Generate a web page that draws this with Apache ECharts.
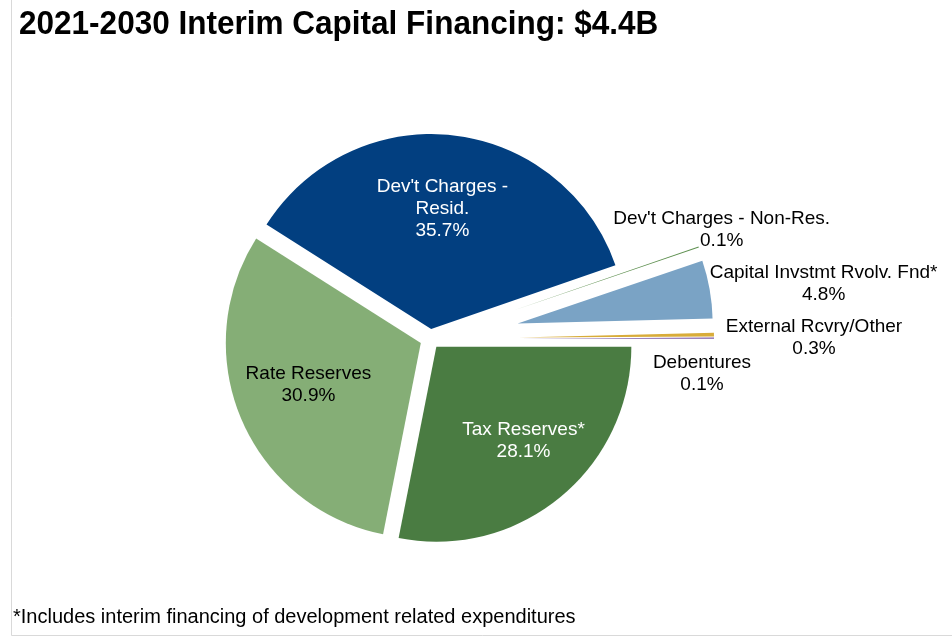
<!DOCTYPE html>
<html>
<head>
<meta charset="utf-8">
<script src="https://cdn.jsdelivr.net/npm/echarts@6/dist/echarts.min.js"></script>
<style>
  html, body { margin: 0; padding: 0; background: #ffffff; }
  #chart { width: 952px; height: 637px; }
</style>
</head>
<body>
<div id="chart"></div>
<script>
// Funding sources, clockwise from 3 o'clock
const categories = [
  "Tax Reserves*",
  "Rate Reserves",
  "Dev't Charges - Resid.",
  "Dev't Charges - Non-Res.",
  "Capital Invstmt Rvolv. Fnd*",
  "External Rcvry/Other",
  "Debentures"
];
// Label text as printed beside each slice
const labelTexts = [
  "Tax Reserves*",
  "Rate Reserves",
  "Dev't Charges -\nResid.",
  "Dev't Charges - Non-Res.",
  "Capital Invstmt Rvolv. Fnd*",
  "External Rcvry/Other",
  "Debentures"
];
// Share of total financing (%)
const shares = [28.1, 30.9, 35.7, 0.1, 4.8, 0.3, 0.1];

const titleText = "2021-2030 Interim Capital Financing: $4.4B";
const footnoteText = "*Includes interim financing of development related expenditures";

// ---- styling / layout ----
const sliceColors = ["#4A7C42", "#85AE76", "#023F80", "#5E9050", "#7AA3C5", "#D8AC3A", "#7B5AA6"];
const labelColors = ["#ffffff", "#000000", "#ffffff", "#000000", "#000000", "#000000", "#000000"];
const explode = [10, 10, 10, 89, 89, 89, 89];
const CX = 430, CY = 339, R = 195;
// label anchor distance from the slice's own centre (null = outer rim) and pixel nudges
const labelDist = [131, 131, 131, null, null, null, null];
const labelNudge = [[4, -7], [8, -10], [-4, 10], [23, -17], [114, -6], [100, 3], [-12, 36]];

const total = shares.reduce((a, b) => a + b, 0);
const midAngles = [];
{
  let acc = 0;
  shares.forEach(v => {
    const a0 = acc / total * 360;
    acc += v;
    const a1 = acc / total * 360;
    midAngles.push((a0 + a1) / 2 * Math.PI / 180);
  });
}

// One pie per slice: the same angular layout, only slice k painted,
// with its centre pushed out along the slice bisector.
function sliceSeries(k) {
  const a = midAngles[k];
  const cx = CX + explode[k] * Math.cos(a);
  const cy = CY + explode[k] * Math.sin(a);
  return {
    type: 'pie',
    name: categories[k],
    center: [cx, cy],
    radius: [0, R],
    startAngle: 0,
    clockwise: true,
    avoidLabelOverlap: false,
    silent: true,
    animation: false,
    itemStyle: { borderWidth: 0 },
    label: {
      position: 'inside',
      fontFamily: 'Liberation Sans, Arial, sans-serif',
      fontSize: 19,
      lineHeight: 22,
      align: 'center'
    },
    labelLine: { show: false },
    emphasis: { disabled: true },
    labelLayout: function (params) {
      const i = params.dataIndex;
      const d = labelDist[i] != null ? labelDist[i] : R;
      return {
        x: cx + d * Math.cos(a) + labelNudge[i][0],
        y: cy + d * Math.sin(a) + labelNudge[i][1],
        align: 'center',
        verticalAlign: 'middle'
      };
    },
    data: shares.map((v, i) => ({
      name: categories[i],
      value: v,
      itemStyle: { color: i === k ? sliceColors[i] : 'rgba(0,0,0,0)' },
      label: {
        show: i === k,
        formatter: labelTexts[i] + '\n' + v.toFixed(1) + '%',
        color: labelColors[i]
      }
    }))
  };
}

const chart = echarts.init(document.getElementById('chart'), null, { renderer: 'canvas' });
chart.setOption({
  backgroundColor: '#ffffff',
  animation: false,
  graphic: [
    {
      type: 'rect',
      shape: { x: 11.5, y: -5, width: 950, height: 640.5 },
      style: { fill: 'none', stroke: '#D9D9D9', lineWidth: 1 },
      silent: true
    },
    {
      type: 'text',
      x: 19, y: 25,
      scaleX: 0.955,
      style: {
        text: titleText,
        font: 'bold 33px "Liberation Sans", Arial, sans-serif',
        fill: '#000000',
        align: 'left',
        verticalAlign: 'middle'
      }
    },
    {
      type: 'text',
      x: 13, y: 617,
      style: {
        text: footnoteText,
        font: '20px "Liberation Sans", Arial, sans-serif',
        fill: '#000000',
        align: 'left',
        verticalAlign: 'middle'
      }
    }
  ],
  series: shares.map((v, k) => sliceSeries(k))
});
</script>
</body>
</html>
